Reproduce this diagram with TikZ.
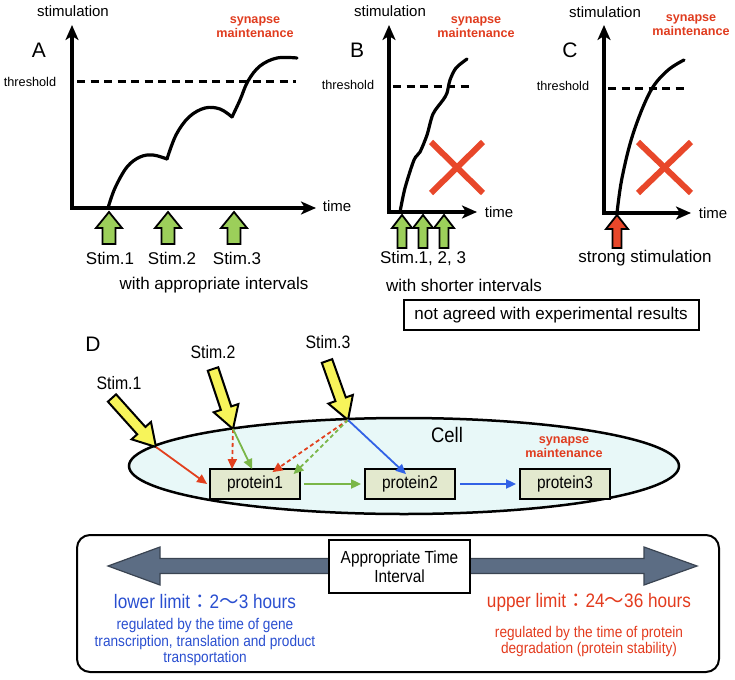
\documentclass[tikz,border=0pt]{standalone}
\usepackage{fontspec}
\setmainfont{Liberation Sans}
\newfontfamily\nar[FakeStretch=0.88]{Liberation Sans}
\newfontfamily\cjk{Noto Sans CJK JP}
\usetikzlibrary{arrows.meta,calc,shapes.geometric}
\definecolor{xred}{HTML}{E8472A}
\definecolor{smred}{HTML}{E03C1F}
\definecolor{stimgreen}{HTML}{9CCF5A}
\definecolor{dgreen}{HTML}{7AB648}
\definecolor{dred}{HTML}{E2401E}
\definecolor{dblue}{HTML}{3262E6}
\definecolor{yel}{HTML}{F7F45A}
\definecolor{cellfill}{HTML}{E8F8F8}
\definecolor{protfill}{HTML}{E3E9CE}
\definecolor{slate}{HTML}{5C6D84}
\definecolor{slatedark}{HTML}{3A4452}
\definecolor{lowblue}{HTML}{2A4FD0}
\definecolor{upred}{HTML}{E33B1E}
\newcommand{\fsz}[2]{\fontsize{#1pt}{#2pt}\selectfont}
% block arrow: #1 style, #2 tail, #3 tip, #4 half shaft, #5 half head, #6 head length
\newcommand{\blockarr}[6]{%
  \coordinate (bah) at ($#3!#6!#2$);
  \draw[#1] ($#2!#4!90:#3$) -- ($(bah)!#4!90:#3$) -- ($(bah)!#5!90:#3$) -- #3
    -- ($(bah)!#5!-90:#3$) -- ($(bah)!#4!-90:#3$) -- ($#2!#4!-90:#3$) -- cycle;}
\tikzset{
  axis/.style={line width=4pt, -{Stealth[length=15pt,width=13pt,inset=4pt]}},
  curve/.style={line width=3.2pt, line cap=round, line join=round},
  thr/.style={line width=3pt, dash pattern=on 8pt off 5.5pt},
  xmark/.style={draw=xred, line width=6pt},
  lbl/.style={inner sep=0pt},
  axlab/.style={lbl, font=\fsz{15}{18}},
  thrlab/.style={lbl, font=\fsz{12.7}{15}},
  panlab/.style={lbl, font=\fsz{21}{24}},
  big/.style={lbl, font=\fsz{17}{20}},
  syn/.style={lbl, font=\bfseries\fsz{12.6}{14.5}, text=smred, align=center},
  upgreen/.style={draw=black, line width=1.8pt, fill=stimgreen, line join=miter},
  upred/.style={draw=black, line width=1.8pt, fill=xred, line join=miter},
  yarr/.style={draw=black, line width=2pt, fill=yel, line join=miter},
  prot/.style={draw=black, line width=1.8pt, fill=protfill, minimum width=90pt, minimum height=30pt, font=\nar\fsz{17.5}{19}, inner sep=0pt},
  dlab/.style={lbl, font=\nar\fsz{18}{20}},
  sarr/.style={line width=1.8pt, -{Triangle[length=10pt,width=9pt]}},
  darr/.style={line width=1.8pt, dash pattern=on 4pt off 3pt, -{Triangle[length=10pt,width=9pt]}},
}
\begin{document}
\begin{tikzpicture}[x=1pt, y=-1pt]
\useasboundingbox (0,0) rectangle (735,679);

% ---------------- Panel A ----------------
\coordinate (oA) at (72,208);
\coordinate (yA) at (72,25);
\coordinate (xA) at (316,208);
\draw[axis] ([yshift=2pt]oA) -- (yA);
\draw[axis] ([xshift=-2pt]oA) -- (xA);
\node[axlab] (stA) at (73,11) {stimulation};
\node[panlab] (lA) at (39,50) {A};
\node[thrlab] (thA) at (30,82) {threshold};
\draw[thr] (77,82) -- (296,82);
\node[syn] (synA) at (255,27) {synapse\\maintenance};
\node[axlab] (tA) at (337,206) {time};
\draw[curve] plot[smooth, tension=0.6] coordinates {(108,208) (115,188) (127,167) (140,157) (153,155) (167,159)};
\draw[curve] plot[smooth, tension=0.6] coordinates {(167,159) (176,135) (189,117) (205,108) (220,109) (232,117)};
\draw[curve] plot[smooth, tension=0.6] coordinates {(232,117) (240,100) (248,81) (260,66) (277,58) (297,58)};
\blockarr{upgreen}{(109,244)}{(109,212)}{6.5pt}{13pt}{16pt}
\blockarr{upgreen}{(168,244)}{(168,212)}{6.5pt}{13pt}{16pt}
\blockarr{upgreen}{(234,244)}{(234,212)}{6.5pt}{13pt}{16pt}
\node[big] (s1A) at (110,258) {Stim.1};
\node[big] (s2A) at (172,258) {Stim.2};
\node[big] (s3A) at (237,258) {Stim.3};
\node[big] (wA) at (214,285) {with appropriate intervals};

% ---------------- Panel B ----------------
\coordinate (oB) at (389,212);
\coordinate (yB) at (389,25);
\coordinate (xB) at (477,212);
\draw[axis] ([yshift=2pt]oB) -- (yB);
\draw[axis] ([xshift=-2pt]oB) -- (xB);
\node[axlab] (stB) at (390,11) {stimulation};
\node[panlab] (lB) at (357,50) {B};
\node[thrlab] (thB) at (348,85) {threshold};
\draw[thr] (393,87) -- (471,87);
\node[syn] (synB) at (476,27) {synapse\\maintenance};
\node[axlab] (tB) at (499,212) {time};
\draw[curve] plot[smooth, tension=0.5] coordinates {(400,212) (405,188) (414,160) (420,152) (427,135) (433,114) (443,100) (447,93) (450,80) (456,68) (467,59)};
\draw[xmark] (431,142) -- (483,193);
\draw[xmark] (483,142) -- (431,193);
\blockarr{upgreen}{(402,248)}{(402,215)}{4.5pt}{10pt}{13pt}
\blockarr{upgreen}{(423,248)}{(423,215)}{4.5pt}{10pt}{13pt}
\blockarr{upgreen}{(444,248)}{(444,215)}{4.5pt}{10pt}{13pt}
\node[big] (sB) at (423,258) {Stim.1, 2, 3};
\node[big] (wB) at (464,285) {with shorter intervals};
\node[draw, line width=2pt, minimum width=295pt, minimum height=30pt, font=\fsz{17}{20}, inner sep=0pt] (nag) at (551,315) {not agreed with experimental results};

% ---------------- Panel C ----------------
\coordinate (oC) at (604,213);
\coordinate (yC) at (604,25);
\coordinate (xC) at (691,213);
\draw[axis] ([yshift=2pt]oC) -- (yC);
\draw[axis] ([xshift=-2pt]oC) -- (xC);
\node[axlab] (stC) at (605,12) {stimulation};
\node[panlab] (lC) at (570,50) {C};
\node[thrlab] (thC) at (563,86) {threshold};
\draw[thr] (608,89) -- (686,89);
\node[syn] (synC) at (691,25) {synapse\\maintenance};
\node[axlab] (tC) at (713,213) {time};
\draw[curve] plot[smooth, tension=0.6] coordinates {(617,213) (622,178) (633,134) (650,92) (667,71) (684,60)};
\draw[xmark] (638,142) -- (691,193);
\draw[xmark] (691,142) -- (638,193);
\blockarr{upred}{(617,248)}{(617,215)}{4.5pt}{11pt}{14pt}
\node[big] (sC) at (645,258) {strong stimulation};

% ---------------- Panel D ----------------
\node[panlab] (lD) at (93,344) {D};
\node[draw=black, line width=2.5pt, fill=cellfill, ellipse, minimum width=550pt, minimum height=96pt, inner sep=0pt] (cell) at (404,466) {};
\node[lbl, font=\nar\fsz{21}{24}] (celllab) at (447,435) {Cell};
\node[syn] (synD) at (564,447) {synapse\\maintenance};
\node[prot] (p1) at (255,484) {protein1};
\node[prot] (p2) at (410,484) {protein2};
\node[prot] (p3) at (565,484) {protein3};

\coordinate (s1tail) at (112,398);
\coordinate (s1tip) at (156,447);
\coordinate (s2tail) at (213,369);
\coordinate (s2tip) at (233,429);
\coordinate (s3tail) at (327,361);
\coordinate (s3tip) at (348,420);
\blockarr{yarr}{(s1tail)}{(s1tip)}{5.5pt}{13pt}{22pt}
\blockarr{yarr}{(s2tail)}{(s2tip)}{5.5pt}{13pt}{22pt}
\blockarr{yarr}{(s3tail)}{(s3tip)}{5.5pt}{13pt}{22pt}
\node[dlab] (s1D) at (119,383) {Stim.1};
\node[dlab] (s2D) at (213,352) {Stim.2};
\node[dlab] (s3D) at (328,342) {Stim.3};

\draw[sarr, dred] (s1tip) -- ([xshift=-2pt]p1.west);
\draw[darr, dred] (s2tip) -- ([yshift=-1pt]$(p1.north west)!0.25!(p1.north east)$);
\draw[sarr, dgreen] (s2tip) -- ([yshift=-1pt]$(p1.north west)!0.47!(p1.north east)$);
\draw[darr, dred] (s3tip) -- ([yshift=-4pt]$(p1.north west)!0.69!(p1.north east)$);
\draw[darr, dgreen] (s3tip) -- ([yshift=-6pt]$(p1.north west)!0.92!(p1.north east)$);
\draw[sarr, dblue] (s3tip) -- ([xshift=-4pt,yshift=-6pt]p2.north);
\draw[sarr, dgreen] ([xshift=3pt]p1.east) -- ([xshift=-3pt]p2.west);
\draw[sarr, dblue] ([xshift=4pt]p2.east) -- ([xshift=-3pt]p3.west);

% ---------------- Bottom box ----------------
\node[draw, rounded corners=13pt, line width=2pt, minimum width=642pt, minimum height=137pt, inner sep=0pt] (tbox) at (398,603.5) {};
\coordinate (al) at (108,566);
\coordinate (ar) at (697,566);
\draw[fill=slate, draw=slatedark, line width=1.2pt, line join=miter]
  (al) -- (160,547) -- (160,558.5) -- (644,558.5) -- (644,547) -- (ar)
  -- (644,585) -- (644,573.5) -- (160,573.5) -- (160,585) -- cycle;
\node[draw, fill=white, line width=2pt, minimum width=141pt, minimum height=53pt, inner sep=0pt, align=center, font=\nar\fsz{17.5}{19.5}] (ati) at (399.5,566.5) {Appropriate Time\\Interval};
\node[lbl, font=\nar\fsz{19.5}{22}, text=lowblue] (low) at (205,602) {lower limit{\cjk ：}2{\cjk 〜}3 hours};
\node[lbl, font=\nar\fsz{15.5}{16.5}, text=lowblue, align=center] (lowtxt) at (205,642) {regulated by the time of gene\\transcription, translation and product\\transportation};
\node[lbl, font=\nar\fsz{19.5}{22}, text=upred] (up) at (589,602) {upper limit{\cjk ：}24{\cjk 〜}36 hours};
\node[lbl, font=\nar\fsz{15.5}{16.5}, text=upred, align=center] (uptxt) at (589,641.5) {regulated by the time of protein\\degradation (protein stability)};
\end{tikzpicture}
\end{document}
